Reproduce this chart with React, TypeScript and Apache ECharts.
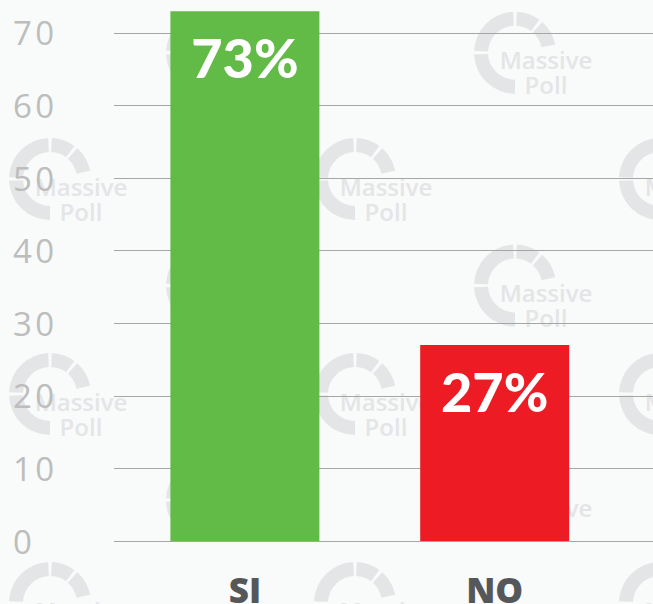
import React, { useEffect, useRef } from "react";
import * as echarts from "echarts";

const categories = ["SI", "NO"];
const values = [73, 27];
const barColors = ["#62bb46", "#ed1c24"];
const yMin = 0;
const yMax = 80;
const yInterval = 10;

// watermark anchor points (ring centres)
const wmRowA_X = [207, 515];
const wmRowA_Y = [52.7, 285.5, 500];
const wmRowB_X = [50, 355, 660];
const wmRowB_Y = [179, 394, 603];

const WM_COLOR = "#e4e5e7";

function watermark(cx: number, cy: number): any[] {
  const g = 0.045;
  const r = 41;
  const r0 = 27;
  const segs: [number, number][] = [
    [Math.PI / 2, Math.PI - g],
    [Math.PI + g, (3 * Math.PI) / 2 - g],
    [(3 * Math.PI) / 2 + g, 5.393 - g],
    [5.393 + g, 2 * Math.PI - 0.2],
  ];
  const els: any[] = segs.map(([s, e]) => ({
    type: "sector",
    z: 0,
    silent: true,
    shape: { cx, cy, r, r0, startAngle: s, endAngle: e, clockwise: true },
    style: { fill: WM_COLOR },
  }));
  els.push({
    type: "text",
    z: 0,
    silent: true,
    x: cx + 31,
    y: cy + 7,
    style: {
      text: "Massive",
      fill: WM_COLOR,
      font: "600 24px 'Open Sans'",
      align: "center",
      verticalAlign: "middle",
    },
  });
  els.push({
    type: "text",
    z: 0,
    silent: true,
    x: cx + 31,
    y: cy + 32,
    style: {
      text: "Poll",
      fill: WM_COLOR,
      font: "600 24px 'Open Sans'",
      align: "center",
      verticalAlign: "middle",
    },
  });
  return els;
}

export default function App() {
  const ref = useRef<HTMLDivElement>(null);
  useEffect(() => {
    if (!ref.current) return;
    const chart = echarts.init(ref.current, null, { renderer: "svg" });
    const wm: any[] = [];
    wmRowA_Y.forEach((y) => wmRowA_X.forEach((x) => wm.push(...watermark(x, y))));
    wmRowB_Y.forEach((y) => wmRowB_X.forEach((x) => wm.push(...watermark(x, y))));
    const gridTop = -39.6;
    const gridBottom = 63;
    chart.setOption({
      animation: false,
      backgroundColor: "#f9fafa",
      graphic: { elements: wm },
      grid: [
        { left: 114, right: 0, top: gridTop, bottom: gridBottom, containLabel: false, outerBoundsMode: "none" },
        { left: 120, right: 33.4, top: gridTop, bottom: gridBottom, containLabel: false, outerBoundsMode: "none" },
      ],
      xAxis: [
        { type: "category", gridIndex: 0, data: categories, show: false },
        {
          type: "category",
          gridIndex: 1,
          data: categories,
          z: 1,
          axisLine: { show: false },
          axisTick: { show: false },
          axisLabel: {
            margin: 31,
            color: "#555759",
            fontFamily: "Open Sans",
            fontWeight: 800,
            fontSize: 35,
          },
        },
      ],
      yAxis: [
        {
          type: "value",
          gridIndex: 0,
          min: yMin,
          max: yMax,
          interval: yInterval,
          z: 1,
          axisLine: { show: false },
          axisTick: { show: false },
          splitLine: { show: true, lineStyle: { color: "#a6a6a6", width: 1.2 } },
          axisLabel: {
            margin: 101,
            color: "#bdbdbd",
            fontFamily: "Open Sans",
            fontSize: 33,
            align: "left",
            formatter: (v: number) => String(v).split("").join("\u200A"),
          },
        },
        { type: "value", gridIndex: 1, min: yMin, max: yMax, interval: yInterval, show: false },
      ],
      series: [
        {
          type: "bar",
          xAxisIndex: 1,
          yAxisIndex: 1,
          z: 2,
          barWidth: 149,
          data: values.map((v, i) => ({ value: v, itemStyle: { color: barColors[i] } })),
          label: {
            show: true,
            position: "insideTop",
            distance: 19,
            formatter: "{c}%",
            color: "#ffffff",
            fontFamily: "Lato",
            fontWeight: 900,
            fontSize: 54,
          },
        },
      ],
    });
    return () => chart.dispose();
  }, []);
  return (
    <div
      ref={ref}
      style={{ position: "fixed", left: 0, top: 0, width: 653, height: 604 }}
    />
  );
}
